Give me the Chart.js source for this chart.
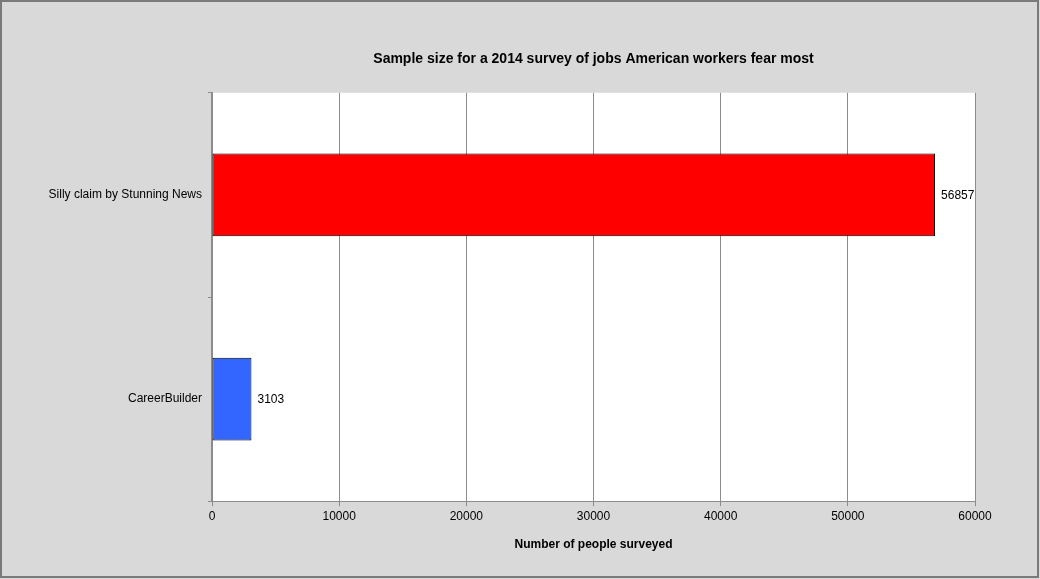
<!DOCTYPE html>
<html>
<head>
<meta charset="utf-8">
<script src="https://cdn.jsdelivr.net/npm/chart.js@4.4.1/dist/chart.umd.min.js"></script>
<style>
  html, body { margin: 0; padding: 0; background: #d9d9d9; }
  #wrap { width: 1040px; height: 579px; position: relative; }
</style>
</head>
<body>
<div id="wrap"><canvas id="surveyChart" width="1040" height="579"></canvas></div>
<script>
// chart data
const categories = ["Silly claim by Stunning News", "CareerBuilder"];
const sampleSizes = [56857, 3103];
const barColors = ["#ff0000", "#3366ff"];
const xTicks = [0, 10000, 20000, 30000, 40000, 50000, 60000];

// grey page background, outer frame and white plot area
const backgroundPlugin = {
  id: "background",
  beforeDraw(chart) {
    const ctx = chart.ctx;
    const a = chart.chartArea;
    ctx.save();
    ctx.fillStyle = "#d9d9d9";
    ctx.fillRect(0, 0, chart.width, chart.height);
    ctx.strokeStyle = "#7a7a7a";
    ctx.lineWidth = 2;
    ctx.strokeRect(1, 1, chart.width - 3, chart.height - 3);
    ctx.fillStyle = "#ffffff";
    ctx.fillRect(a.left, a.top, a.right - a.left, a.bottom - a.top);
    ctx.restore();
  },
};

// value labels to the right of each bar
const valueLabels = {
  id: "valueLabels",
  afterDatasetsDraw(chart) {
    const ctx = chart.ctx;
    const meta = chart.getDatasetMeta(0);
    ctx.save();
    ctx.font = "12px 'Liberation Sans', Arial, sans-serif";
    ctx.fillStyle = "#000";
    ctx.textAlign = "left";
    ctx.textBaseline = "middle";
    meta.data.forEach((bar, i) => {
      ctx.fillText(String(sampleSizes[i]), bar.x + 6, bar.y + 1);
    });
    ctx.restore();
  },
};

const ctx = document.getElementById("surveyChart").getContext("2d");

new Chart(ctx, {
  type: "bar",
  data: {
    labels: categories,
    datasets: [
      {
        data: sampleSizes,
        backgroundColor: barColors,
        borderColor: "#000000",
        borderWidth: 1,
        borderSkipped: false,
        barPercentage: 0.405,
        categoryPercentage: 1,
      },
    ],
  },
  options: {
    indexAxis: "y",
    responsive: false,
    animation: false,
    devicePixelRatio: 1,
    layout: {
      padding: { left: 0, right: 65, top: 0, bottom: 27 },
    },
    plugins: {
      legend: { display: false },
      tooltip: { enabled: false },
      title: {
        display: true,
        text: "Sample size for a 2014 survey of jobs American workers fear most",
        fullSize: false,
        color: "#000",
        font: { family: "'Liberation Sans', Arial, sans-serif", size: 14, weight: "bold", lineHeight: 1.2 },
        padding: { top: 51, bottom: 25 },
      },
    },
    scales: {
      x: {
        type: "linear",
        min: 0,
        max: 60000,
        afterBuildTicks(scale) {
          scale.ticks = xTicks.map((v) => ({ value: v }));
        },
        grid: {
          color: "#8c8c8c",
          lineWidth: 1,
          tickLength: 5,
          drawTicks: true,
        },
        border: { display: true, color: "#8c8c8c", width: 1 },
        ticks: {
          color: "#000",
          padding: 3,
          maxRotation: 0,
          callback: (value) => String(value),
          font: { family: "'Liberation Sans', Arial, sans-serif", size: 12, lineHeight: 1.2 },
        },
        title: {
          display: true,
          text: "Number of people surveyed",
          color: "#000",
          font: { family: "'Liberation Sans', Arial, sans-serif", size: 12, weight: "bold", lineHeight: 1.2 },
          padding: { top: 11, bottom: 0 },
        },
      },
      y: {
        type: "category",
        offset: true,
        afterFit(scale) {
          scale.width = 212;
        },
        grid: {
          offset: true,
          drawOnChartArea: false,
          color: "#8c8c8c",
          tickLength: 4,
        },
        border: { display: true, color: "#8c8c8c", width: 2 },
        ticks: {
          color: "#000",
          padding: 6,
          font: { family: "'Liberation Sans', Arial, sans-serif", size: 12, lineHeight: 1.2 },
        },
      },
    },
  },
  plugins: [backgroundPlugin, valueLabels],
});
</script>
</body>
</html>
